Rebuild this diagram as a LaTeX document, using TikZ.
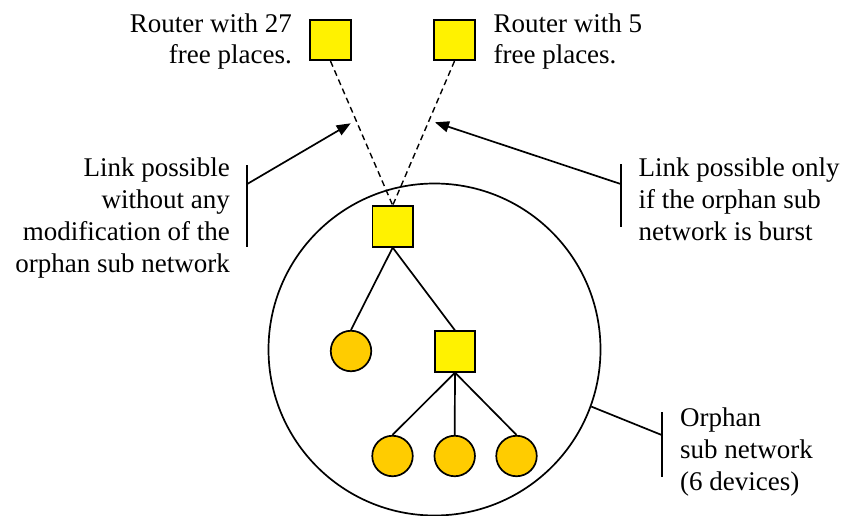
\documentclass[tikz,border=0pt]{standalone}
\usepackage{fontspec}
\setmainfont{Liberation Serif}
\usetikzlibrary{arrows.meta}
\begin{document}
\begin{tikzpicture}[x=1pt,y=-1pt,
  line width=1.7pt,
  every node/.style={inner sep=0pt},
  router/.style={draw,fill=yellow,rectangle,minimum size=40.5pt},
  device/.style={draw,fill=devorange,circle,minimum size=40.5pt},
  txt/.style={font=\fontsize{27}{31.7}\selectfont},
  link/.style={dash pattern=on 6pt off 4pt},
  pointer/.style={-{Triangle[length=14pt,width=11pt]}}
]
\definecolor{devorange}{HTML}{FFCC00}
\useasboundingbox (0,0) rectangle (845,516);

% orphan sub network outline
\node[draw,circle,minimum size=332pt] (net) at (434.5,349.5) {};

% candidate routers
\node[router] (r27) at (330.5,40) {};
\node[router] (r5)  at (454.5,40) {};

% orphan tree
\node[router] (root) at (392.7,226.5) {};
\node[device] (d1)   at (351,351) {};
\node[router] (sub)  at (455,351.5) {};
\node[device] (d2)   at (392.5,456) {};
\node[device] (d3)   at (454.7,456) {};
\node[device] (d4)   at (516.5,456) {};

\draw (root.south) -- (d1.north);
\draw (root.south) -- (sub.north);
\draw (sub.south) -- (d2.north);
\draw (sub.south) -- (d3.north);
\draw (sub.south) -- (d4.north);

% possible links
\draw[link,line width=1.4pt] (r27.south) -- (root.north);
\draw[link,line width=1.4pt] (r5.south) -- (root.north);

% labels
\node[txt,align=right,anchor=base east] (t27) at (292.7,64) {Router with 27\\free places.};
\node[txt,align=left,anchor=base west] (t5) at (492.7,64) {Router with 5\\free places.};
\node[txt,align=right,anchor=base east] (tl) at (230.7,272) {Link possible\\without any\\modification of the\\orphan sub network};
\node[txt,align=left,anchor=base west] (tr) at (637.7,240) {Link possible only\\if the orphan sub\\network is burst};
\node[txt,align=left,anchor=base west] (to) at (679.3,490) {Orphan\\sub network\\(6 devices)};

% callout brackets and arrows
\coordinate (lbt) at (246.7,165);
\coordinate (lbb) at (246.7,247.3);
\coordinate (lbm) at (246.7,184.3);
\coordinate (ltip) at (350.7,123.3);
\draw (lbt) -- (lbb);
\draw[pointer] (lbm) -- (ltip);

\coordinate (rbt) at (620.7,164);
\coordinate (rbb) at (620.7,226.7);
\coordinate (rbm) at (620.7,184);
\coordinate (rtip) at (435,122.3);
\draw (rbt) -- (rbb);
\draw[pointer] (rbm) -- (rtip);

\coordinate (obt) at (661.7,412.3);
\coordinate (obb) at (661.7,476.7);
\coordinate (obm) at (661.7,435);
\draw (obt) -- (obb);
\draw (net.-20.7) -- (obm);
\end{tikzpicture}
\end{document}
